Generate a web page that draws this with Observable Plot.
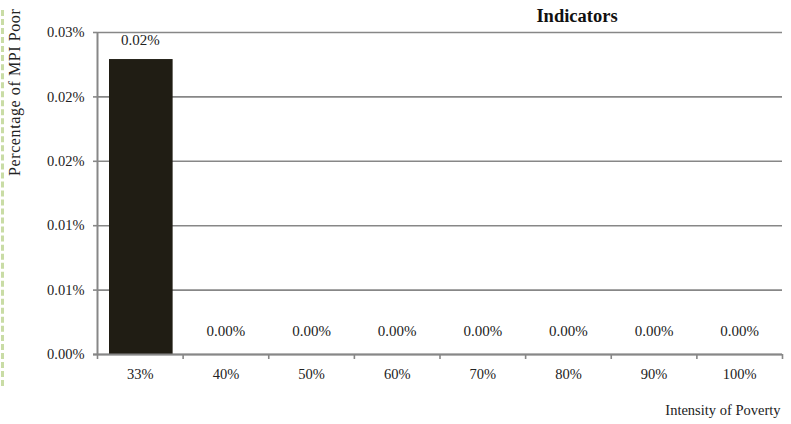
<!DOCTYPE html>
<html>
<head>
<meta charset="utf-8">
<script src="https://cdn.jsdelivr.net/npm/d3@7"></script>
<script src="https://cdn.jsdelivr.net/npm/@observablehq/plot@0.6"></script>
<style>
  html, body { margin: 0; padding: 0; background: #fff; overflow: hidden; }
  #wrap { position: relative; width: 791px; height: 424px; font-family: "Liberation Serif", "DejaVu Serif", serif; }
  #title { position: absolute; left: 440px; width: 274px; top: 6px; text-align: center; font-weight: bold; font-size: 18.5px; line-height: 21px; color: #111; font-family: "Liberation Serif", serif; }
  #ylab { position: absolute; left: 6px; top: 0px; transform-origin: 0 0; font-size: 16px; letter-spacing: 0.6px; color: #222; white-space: nowrap; font-family: "Liberation Serif", serif; }
  #deco { position: absolute; left: 1px; top: 10px; height: 376px; border-left: 3px dashed #c9dca5; }
</style>
</head>
<body>
<div id="wrap">
  <div id="deco"></div>
  <div id="chart"></div>
  <div id="title">Indicators</div>
  <div id="ylab">Percentage of MPI Poor</div>
</div>
<script>
const categories = ["33%", "40%", "50%", "60%", "70%", "80%", "90%", "100%"];
const values = [0.0229, 0, 0, 0, 0, 0, 0, 0];
const yTicks = [0, 0.005, 0.010, 0.015, 0.020, 0.025];
const xAxisTitle = "Intensity of Poverty";

const rows = categories.map((c, i) => ({ i, cat: c, v: values[i] }));
const fmt = d => (Math.round(d * 100 + 1e-9) / 100).toFixed(2) + "%";
const gray = "#878787";
const serif = "'Liberation Serif', 'DejaVu Serif', serif";

const plot = Plot.plot({
  width: 791,
  height: 424,
  marginLeft: 97,
  marginRight: 9,
  marginTop: 32,
  marginBottom: 70,
  style: { fontFamily: serif, fontSize: "14px", color: "#222", background: "transparent" },
  x: { domain: [0, categories.length], axis: null },
  y: { domain: [0, 0.025], axis: null },
  marks: [
    Plot.gridY(yTicks, { stroke: gray, strokeOpacity: 1, strokeWidth: 1.6 }),
    Plot.rectY(rows, { x1: "i", x2: d => d.i + 1, y: "v", fill: "#201d14", insetLeft: 12, insetRight: 10 }),
    Plot.ruleX([0], { stroke: gray, strokeWidth: 2 }),
    Plot.ruleY([0], { stroke: gray, strokeWidth: 2, insetLeft: -4 }),
    Plot.axisY({ ticks: yTicks, tickFormat: fmt, tickSize: 4, tickPadding: 9, stroke: gray, strokeWidth: 1.6, fontSize: 14.5, fontFamily: serif, label: null }),
    Plot.axisX({ ticks: d3.range(categories.length + 1), tickFormat: () => "", tickSize: 5, stroke: gray, strokeWidth: 1.6, label: null }),
    Plot.axisX({ ticks: categories.map((c, i) => i + 0.5), tickFormat: d => categories[Math.floor(d)], tickSize: 0, tickPadding: 14, fontSize: 14.5, fontFamily: serif, label: null }),
    Plot.text(rows.filter(d => d.v > 0), { x: d => d.i + 0.5, y: "v", text: d => fmt(d.v), dy: -19, fontSize: 15, fontFamily: serif, fill: "#222" }),
    Plot.text(rows.filter(d => d.v <= 0), { x: d => d.i + 0.5, y: "v", text: d => fmt(d.v), dy: -23, fontSize: 15, fontFamily: serif, fill: "#222" }),
    Plot.text([xAxisTitle], { frameAnchor: "bottom-right", dy: 60, dx: -2, textAnchor: "end", fontSize: 14.5, fontFamily: serif, fill: "#222" })
  ]
});
document.getElementById("chart").appendChild(plot);
const yl = document.getElementById("ylab");
const w = yl.getBoundingClientRect().width;
yl.style.top = (9 + w) + "px";
yl.style.transform = "rotate(-90deg)";
</script>
</body>
</html>
